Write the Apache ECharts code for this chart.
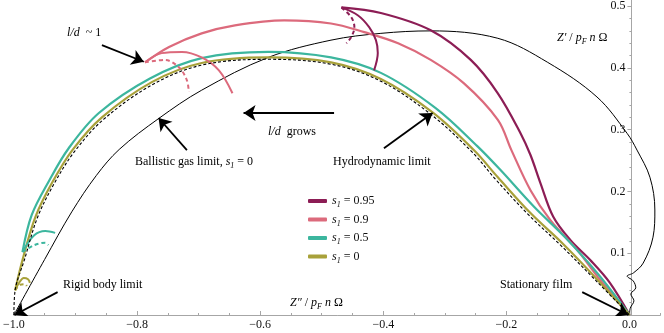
<!DOCTYPE html>
<html>
<head>
<meta charset="utf-8">
<script src="https://cdn.jsdelivr.net/npm/echarts@6.0.0/dist/echarts.min.js"></script>
<style>
html, body { margin: 0; padding: 0; background: #fff; }
#chart { width: 664px; height: 333px; }
</style>
</head>
<body>
<div id="chart"></div>
<script>
// tick labels
const xTicks = [-1.0, -0.8, -0.6, -0.4, -0.2, 0.0];
const yTicks = [0.1, 0.2, 0.3, 0.4, 0.5];
const legendLabels = ['0.95', '0.9', '0.5', '0'];

// ballistic gas limit (thin black) and hydrodynamic limit (dashed)
const ballistic = [[-1.0,0],[-0.950,0.090],[-0.906,0.167],[-0.866,0.226],[-0.829,0.268],[-0.765,0.318],
  [-0.695,0.364],[-0.587,0.417],[-0.485,0.445],[-0.404,0.456],[-0.323,0.460],[-0.214,0.448],[-0.133,0.409],
  [-0.053,0.353],[-0.004,0.294],[0.012,0.267],[0.033,0.223],[0.041,0.170],[0.038,0.126],[0.022,0.084],
  [0.006,0.068],[-0.004,0.063],[0.006,0.055],[0.010,0.044],[0.002,0.034],[0.007,0.023],[0.001,0.011],[0,0]];
const hydro = [[-1.0,0],[-0.998,0.040],[-0.983,0.089],[-0.962,0.157],[-0.935,0.212],[-0.902,0.264],[-0.854,0.317],
  [-0.773,0.374],[-0.693,0.405],[-0.587,0.414],[-0.485,0.406],[-0.405,0.379],[-0.323,0.325],[-0.256,0.264],
  [-0.218,0.220],[-0.164,0.162],[-0.111,0.112],[-0.054,0.055],[0,0]];

// s1 = 0
const s0 = [[-0.998,0.040],[-0.986,0.089],[-0.965,0.159],[-0.938,0.214],[-0.905,0.267],[-0.857,0.320],[-0.776,0.377],
  [-0.695,0.408],[-0.587,0.417],[-0.485,0.409],[-0.404,0.382],[-0.320,0.328],[-0.253,0.267],[-0.214,0.223],
  [-0.161,0.165],[-0.108,0.115],[-0.053,0.058],[0,0]];
const s0Arc = [[-0.998,0.040],[-0.991,0.053],[-0.984,0.060],[-0.977,0.058],[-0.974,0.052]];
const s0ArcDash = [[-0.998,0.040],[-0.990,0.049],[-0.982,0.050],[-0.979,0.047]];

// s1 = 0.5
const s05 = [[-0.986,0.102],[-0.971,0.162],[-0.943,0.217],[-0.911,0.270],[-0.862,0.327],[-0.779,0.383],[-0.695,0.416],
  [-0.587,0.426],[-0.485,0.417],[-0.404,0.392],[-0.315,0.335],[-0.247,0.273],[-0.210,0.235],[-0.156,0.176],
  [-0.104,0.125],[-0.051,0.066],[0,0]];
const s05Arc = [[-0.986,0.102],[-0.967,0.129],[-0.949,0.136],[-0.933,0.133]];
const s05ArcDash = [[-0.986,0.102],[-0.967,0.113],[-0.949,0.117],[-0.944,0.113]];

// s1 = 0.9
const s09 = [[-0.787,0.409],[-0.748,0.434],[-0.695,0.456],[-0.641,0.469],[-0.561,0.477],[-0.485,0.472],[-0.431,0.458],
  [-0.376,0.440],[-0.323,0.413],[-0.269,0.375],[-0.214,0.316],[-0.192,0.267],[-0.161,0.202],[-0.129,0.154],
  [-0.085,0.105],[-0.048,0.057],[0,0]];
const s09Arc = [[-0.787,0.409],[-0.760,0.424],[-0.727,0.426],[-0.695,0.417],[-0.667,0.396],[-0.645,0.359]];
const s09ArcDash = [[-0.787,0.409],[-0.755,0.413],[-0.732,0.401],[-0.719,0.380],[-0.716,0.361]];

// s1 = 0.95
const s095 = [[-0.468,0.498],[-0.404,0.489],[-0.323,0.461],[-0.258,0.413],[-0.214,0.359],[-0.177,0.294],[-0.161,0.259],
  [-0.145,0.214],[-0.124,0.159],[-0.096,0.121],[-0.064,0.089],[-0.032,0.052],[0,0]];
const s095Arc = [[-0.468,0.498],[-0.441,0.485],[-0.423,0.466],[-0.412,0.445],[-0.409,0.424],[-0.415,0.396]];
const s095ArcDash = [[-0.468,0.498],[-0.452,0.482],[-0.447,0.466],[-0.452,0.450],[-0.460,0.440]];

// annotation arrows: [from, to]
const arrows = [
  [[-0.857,0.437],[-0.789,0.410]],
  [[-0.480,0.327],[-0.627,0.327]],
  [[-0.719,0.267],[-0.765,0.319]],
  [[-0.399,0.270],[-0.320,0.327]],
  [[-0.929,0.037],[-0.999,0.0]],
  [[-0.077,0.037],[-0.002,0.0]]
];

const serif = '"Liberation Serif", "DejaVu Serif", serif';
const gray = '#a6a6a6';
const colors = {s095: '#8c1d55', s09: '#dc6a7c', s05: '#3cb69e', s0: '#a8a13a'};
const minus = v => (v < 0 ? '\u2212' : '') + Math.abs(v).toFixed(1);

// grid geometry: x from -1 to 0.05, y axis drawn at x = 0
const gridLeft = 12, gridRight = 3.6;
const xMin = -1, xMax = 0.05;
const plotW = 664 - gridLeft - gridRight;
const yAxisShift = -plotW * (0 - xMin) / (xMax - xMin);

let xMinor = [], yMinor = [];
for (let i = 0; i <= 21; i++) xMinor.push(+(-1 + i * 0.05).toFixed(2));
for (let i = 1; i <= 25; i++) yMinor.push(+(i * 0.02).toFixed(2));

const rich = {
  i: {fontStyle: 'italic', fontFamily: serif, fontSize: 12, lineHeight: 16, color: '#111'},
  r: {fontFamily: serif, fontSize: 12, lineHeight: 16, color: '#111'},
  sub: {fontStyle: 'italic', fontFamily: serif, fontSize: 8, lineHeight: 10, verticalAlign: 'bottom', color: '#111'}
};

function curve(name, data, color, width, dashed) {
  return {
    name: name, type: 'line', data: data, smooth: 0.35, showSymbol: false, silent: true,
    itemStyle: {color: color},
    lineStyle: {color: color, width: width, type: dashed ? [4, 3] : 'solid'},
    z: 3
  };
}

function label(x, y, text) {
  return {type: 'text', x: x, y: y, silent: true,
    style: {text: text, rich: rich, align: 'left', verticalAlign: 'middle', fontFamily: serif, fontSize: 12}};
}

const chart = echarts.init(document.getElementById('chart'));
let option = {
  animation: false,
  backgroundColor: '#fff',
  grid: {left: gridLeft, right: gridRight, top: 0, bottom: 18, containLabel: false},
  xAxis: [
    {
      type: 'value', min: xMin, max: xMax, position: 'bottom',
      axisLine: {show: true, onZero: false, lineStyle: {color: gray, width: 1}},
      axisTick: {show: true, inside: true, length: 4, customValues: xTicks, lineStyle: {color: gray}},
      axisLabel: {customValues: xTicks, formatter: minus, fontFamily: serif, fontSize: 12, color: '#111', margin: 4},
      splitLine: {show: false}
    },
    {
      type: 'value', min: xMin, max: xMax, position: 'bottom',
      axisLine: {show: false, onZero: false},
      axisTick: {show: true, inside: true, length: 2, customValues: xMinor, lineStyle: {color: gray}},
      axisLabel: {show: false},
      splitLine: {show: false}
    }
  ],
  yAxis: [
    {
      type: 'value', min: 0, max: 0.51, position: 'left', offset: yAxisShift,
      axisLine: {show: true, onZero: false, lineStyle: {color: gray, width: 1}},
      axisTick: {show: true, inside: false, length: 4, customValues: yTicks, lineStyle: {color: gray}},
      axisLabel: {customValues: yTicks, formatter: v => v.toFixed(1), fontFamily: serif, fontSize: 12, color: '#111', margin: 6},
      splitLine: {show: false}
    },
    {
      type: 'value', min: 0, max: 0.51, position: 'left', offset: yAxisShift,
      axisLine: {show: false, onZero: false},
      axisTick: {show: true, inside: false, length: 2, customValues: yMinor, lineStyle: {color: gray}},
      axisLabel: {show: false},
      splitLine: {show: false}
    }
  ],
  legend: {
    data: ['s095', 's09', 's05', 's0'],
    orient: 'vertical', left: 303, top: 190,
    icon: 'roundRect', itemWidth: 19, itemHeight: 4, itemGap: 4.5,
    selectedMode: false,
    formatter: name => {
      const k = ['s095', 's09', 's05', 's0'].indexOf(name);
      return '{i|s}{sub|1}{r| = ' + legendLabels[k] + '}';
    },
    textStyle: {fontFamily: serif, fontSize: 12, color: '#111', rich: rich}
  },
  graphic: [
    label(67, 33, '{i|l/d}{r|  ~ 1}'),
    label(268, 132, '{i|l/d}{r|  grows}'),
    label(135, 162, '{r|Ballistic gas limit, }{i|s}{sub|1}{r| = 0}'),
    label(333, 162, '{r|Hydrodynamic limit}'),
    label(63, 285, '{r|Rigid body limit}'),
    label(500, 285, '{r|Stationary film}'),
    label(290, 303, '{i|Z\u2033}{r| / }{i|p}{sub|F}{r| }{i|n}{r| \u03A9}'),
    label(557, 38, '{i|Z\u2032}{r| / }{i|p}{sub|F}{r| }{i|n}{r| \u03A9}')
  ],
  series: [
    {name: 'ballistic', type: 'line', data: ballistic, smooth: 0.35, showSymbol: false, silent: true,
      lineStyle: {color: '#000', width: 1}, itemStyle: {color: '#000'}, z: 2},
    curve('s095', s095, colors.s095, 2.2, false),
    curve('s09', s09, colors.s09, 2.2, false),
    curve('s05', s05, colors.s05, 2.2, false),
    curve('s0', s0, colors.s0, 2.2, false),
    curve('s095', s095Arc, colors.s095, 2, false),
    curve('s095', s095ArcDash, colors.s095, 2, true),
    curve('s09', s09Arc, colors.s09, 2, false),
    curve('s09', s09ArcDash, colors.s09, 2, true),
    curve('s05', s05Arc, colors.s05, 2, false),
    curve('s05', s05ArcDash, colors.s05, 2, true),
    curve('s0', s0Arc, colors.s0, 2, false),
    curve('s0', s0ArcDash, colors.s0, 2, true),
    {name: 'hydro', type: 'line', data: hydro, smooth: 0.35, showSymbol: false, silent: true,
      lineStyle: {color: '#000', width: 1.1, type: [3, 2]}, itemStyle: {color: '#000'}, z: 4},
    {
      name: 'arrows', type: 'lines', coordinateSystem: 'cartesian2d', silent: true,
      symbol: ['none', 'arrow'], symbolSize: [8, 12],
      lineStyle: {color: '#000', width: 1.8, opacity: 1, curveness: 0},
      data: arrows.map(a => ({coords: a})),
      z: 5
    }
  ]
};
option && chart.setOption(option);
</script>
</body>
</html>
